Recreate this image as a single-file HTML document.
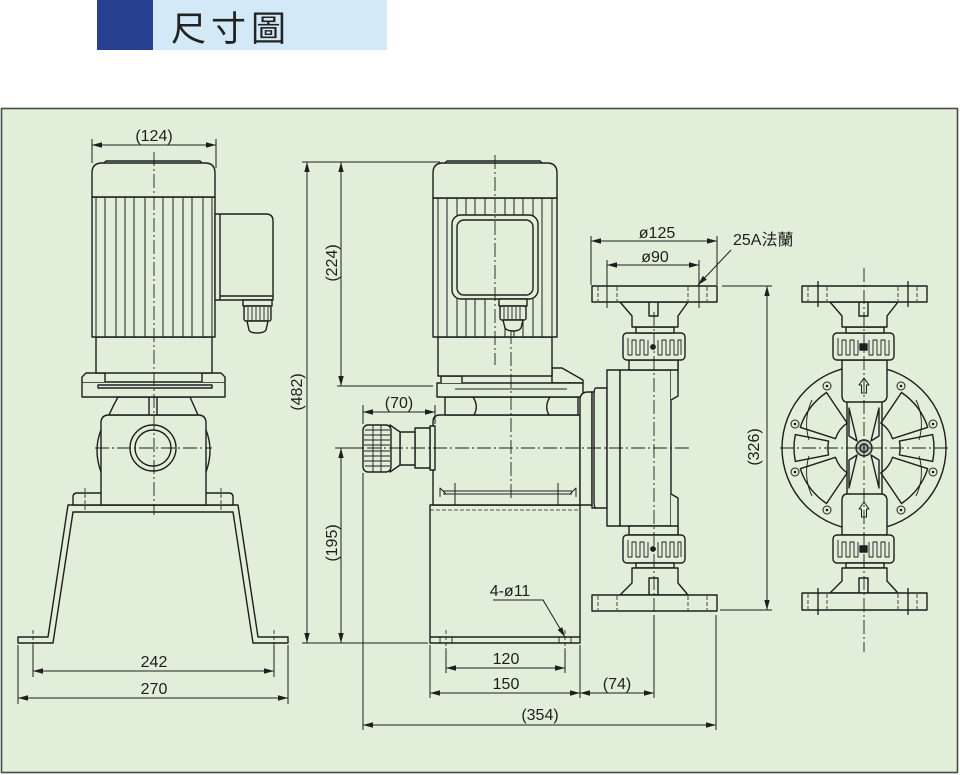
<!DOCTYPE html>
<html><head><meta charset="utf-8"><style>
html,body{margin:0;padding:0;background:#fff;width:960px;height:775px;overflow:hidden}
svg{display:block}
text{font-family:"Liberation Sans","Noto Sans CJK TC",sans-serif;font-size:16px;fill:#1e1e1e}
</style></head><body>
<svg width="960" height="775" viewBox="0 0 960 775" xmlns="http://www.w3.org/2000/svg">
<defs>
<marker id="a" markerUnits="userSpaceOnUse" markerWidth="10" markerHeight="6" refX="10" refY="3" orient="auto-start-reverse"><path d="M0,0.3 L10,3 L0,5.7Z" fill="#1e1e1e"/></marker>
</defs>
<rect x="97" y="0" width="56" height="50" fill="#27408f"/>
<rect x="153" y="0" width="234" height="50" fill="#d4e9f7"/>
<text x="171" y="41" style="font-family:'Noto Sans CJK TC','WenQuanYi Zen Hei',sans-serif;font-size:35px;letter-spacing:5px;fill:#222">尺寸圖</text>
<rect x="1.5" y="108.5" width="956" height="664" fill="#e1eed9" stroke="#4a4a4a" stroke-width="1.6"/>

<!-- ============ LEFT VIEW ============ -->
<g fill="#e1eed9" stroke="#1e1e1e" stroke-width="1.4" stroke-linejoin="round">
  <path d="M18,637 L48,637 L68,505 L238,505 L258,637 L288,637 L288,643 L253,643 L233,512 L73,512 L53,643 L18,643 Z"/>
  <path d="M73,505 L73,497 Q73,493 77,493 L229,493 Q233,493 233,497 L233,505 Z"/>
  <path d="M101,430 Q93,450 101,472" fill="none"/>
  <path d="M206,430 Q214,450 206,472" fill="none"/>
  <path d="M101,505 L101,423 Q101,415 109,415 L198,415 Q206,415 206,423 L206,505 Z"/>
  <circle cx="153" cy="448" r="23"/>
  <circle cx="153" cy="448" r="18"/>
  <path d="M118,397 Q113,406 109,415 L198,415 Q194,406 190,397 Z"/>
  <line x1="149" y1="397" x2="149" y2="415"/>
  <line x1="157" y1="397" x2="157" y2="415"/>
  <rect x="82" y="382" width="143" height="15"/>
  <path d="M82,382 L82,377 L86,373 L105,373 L105,382"/>
  <path d="M225,382 L225,377 L221,373 L202,373 L202,382"/>
  <path d="M98,385 L212,385 L212,388 L98,388 Z"/>
  <rect x="96" y="337" width="116" height="36"/>
  <rect x="92" y="197" width="123" height="140"/>
  <g stroke-width="1">
    <line x1="96" y1="197" x2="96" y2="337"/><line x1="105" y1="197" x2="105" y2="337"/>
    <line x1="116" y1="197" x2="116" y2="337"/><line x1="125" y1="197" x2="125" y2="337"/>
    <line x1="134" y1="197" x2="134" y2="337"/><line x1="145" y1="197" x2="145" y2="337"/>
    <line x1="163" y1="197" x2="163" y2="337"/><line x1="173" y1="197" x2="173" y2="337"/>
    <line x1="183" y1="197" x2="183" y2="337"/><line x1="192" y1="197" x2="192" y2="337"/>
    <line x1="203" y1="197" x2="203" y2="337"/><line x1="212" y1="197" x2="212" y2="337"/>
  </g>
  <path d="M92,197 L92,173 Q92,163 102,163 L205,163 Q215,163 215,173 L215,197 Z"/>
  <path d="M104,163 L106,161 L200,161 L202,163" fill="none"/>
  <path d="M215,214 L266,214 Q273,214 273,221 L273,300 L215,300 Z"/>
  <line x1="220" y1="214" x2="220" y2="300"/>
  <line x1="220" y1="296" x2="273" y2="296"/>
  <rect x="243" y="300" width="29" height="6"/>
  <rect x="244" y="306" width="27" height="15" rx="2"/>
  <g stroke-width="0.9"><line x1="248" y1="307" x2="248" y2="320"/><line x1="252" y1="307" x2="252" y2="320"/><line x1="256" y1="307" x2="256" y2="320"/><line x1="260" y1="307" x2="260" y2="320"/><line x1="264" y1="307" x2="264" y2="320"/><line x1="268" y1="307" x2="268" y2="320"/></g>
  <path d="M247,321 L268,321 L266,330 Q264,333 257,333 Q250,333 249,330 Z"/>
</g>
<g stroke="#1e1e1e" stroke-width="0.9" fill="none" stroke-dasharray="14 3 2 3">
  <line x1="154" y1="152" x2="154" y2="515"/>
  <line x1="95" y1="448" x2="212" y2="448"/>
</g>
<g stroke="#1e1e1e" stroke-width="0.8" fill="none" stroke-dasharray="4 2">
  <line x1="85" y1="488" x2="85" y2="512"/><line x1="221" y1="488" x2="221" y2="512"/>
  <line x1="33" y1="630" x2="33" y2="650"/><line x1="274" y1="630" x2="274" y2="650"/>
</g>

<!-- ============ MIDDLE VIEW ============ -->
<g fill="#e1eed9" stroke="#1e1e1e" stroke-width="1.4" stroke-linejoin="round">
  <rect x="430" y="505" width="150" height="138"/>
  <line x1="430" y1="637" x2="580" y2="637"/>
  <g stroke-width="0.9"><line x1="440" y1="637" x2="440" y2="643"/><line x1="452" y1="637" x2="452" y2="643"/><line x1="559" y1="637" x2="559" y2="643"/><line x1="571" y1="637" x2="571" y2="643"/></g>
  <path d="M433,505 L433,422 Q433,415 440,415 L580,415 L580,505 Z"/>
  <line x1="443" y1="491" x2="572" y2="491" stroke-width="1"/>
  <line x1="443" y1="494" x2="572" y2="494" stroke-width="1"/>
  <path d="M440,497 L440,488 L446,494" fill="none" stroke-width="1"/>
  <path d="M576,497 L576,488 L570,494" fill="none" stroke-width="1"/>
  <line x1="455" y1="483" x2="455" y2="505" stroke-width="1"/>
  <line x1="558" y1="483" x2="558" y2="505" stroke-width="1"/>
  <rect x="445" y="397" width="133" height="18"/>
  <path d="M473,397 Q479,406 474,415" fill="none"/>
  <path d="M550,397 Q544,406 549,415" fill="none"/>
  <path d="M552,368 L562,368 L583,380 L583,383 L552,383 Z"/>
  <rect x="437" y="383" width="146" height="14"/>
  <path d="M441,383 L441,376 L462,376 L462,383" />
  <line x1="455" y1="389" x2="567" y2="389" stroke-width="1"/>
  <rect x="438" y="337" width="114" height="39"/>
  <rect x="433" y="198" width="124" height="139"/>
  <g stroke-width="1">
    <line x1="438" y1="198" x2="438" y2="337"/><line x1="447" y1="198" x2="447" y2="337"/>
    <line x1="457" y1="198" x2="457" y2="337"/><line x1="466" y1="198" x2="466" y2="337"/>
    <line x1="475" y1="198" x2="475" y2="337"/><line x1="485" y1="198" x2="485" y2="337"/>
    <line x1="505" y1="198" x2="505" y2="337"/><line x1="514" y1="198" x2="514" y2="337"/>
    <line x1="523" y1="198" x2="523" y2="337"/><line x1="533" y1="198" x2="533" y2="337"/>
    <line x1="542" y1="198" x2="542" y2="337"/><line x1="552" y1="198" x2="552" y2="337"/>
  </g>
  <path d="M433,198 L433,173 Q433,163 443,163 L547,163 Q557,163 557,173 L557,198 Z"/>
  <path d="M445,163 L447,161 L540,161 L542,163" fill="none"/>
  <rect x="452" y="215" width="86" height="84" rx="9"/>
  <rect x="457" y="220" width="76" height="75" rx="7"/>
  <rect x="499" y="299" width="28" height="7"/>
  <rect x="500" y="306" width="26" height="14" rx="2"/>
  <g stroke-width="0.9"><line x1="504" y1="307" x2="504" y2="319"/><line x1="508" y1="307" x2="508" y2="319"/><line x1="512" y1="307" x2="512" y2="319"/><line x1="516" y1="307" x2="516" y2="319"/><line x1="520" y1="307" x2="520" y2="319"/></g>
  <path d="M503,320 L523,320 L521,328 Q519,331 513,331 Q507,331 505,328 Z"/>
  <rect x="430" y="426" width="5" height="44"/>
  <rect x="415" y="428" width="15" height="40"/>
  <rect x="400" y="432" width="15" height="33"/>
  <path d="M390,425 L400,432 L400,465 L390,472 Z"/>
  <rect x="363" y="425" width="28" height="47" rx="5"/>
  <g stroke-width="0.9">
    <line x1="365" y1="430" x2="390" y2="430"/><line x1="364" y1="435" x2="390" y2="435"/><line x1="364" y1="440" x2="390" y2="440"/><line x1="364" y1="445" x2="390" y2="445"/><line x1="364" y1="451" x2="390" y2="451"/><line x1="364" y1="456" x2="390" y2="456"/><line x1="364" y1="461" x2="390" y2="461"/><line x1="365" y1="466" x2="390" y2="466"/>
    <line x1="373" y1="425" x2="373" y2="472"/><line x1="381" y1="425" x2="381" y2="472"/>
  </g>
  <path d="M580,505 L580,400 Q580,392 588,392 L592,392 L592,505 Z"/>
  <rect x="592" y="392" width="4" height="116"/>
  <path d="M596,388 L607,388 L607,508 L596,508 Q594,508 594,500 L594,396 Q594,388 596,388 Z"/>
  <rect x="607" y="370" width="13" height="156"/>
  <rect x="620" y="370" width="51" height="156"/>
  <path d="M671,360 L678,360 L678,396 L671,400" />
  <path d="M671,494 L678,498 L678,535 L671,535" />
  <rect x="629" y="360" width="49" height="10"/>
  <rect x="623" y="333" width="62" height="27" rx="4"/>
  <g stroke-width="0.9">
    <path d="M628,338 L628,355 L632,355 L632,340 L636,340 L636,355 L640,355 L640,340 L644,340 L644,355 L648,355 L648,340 M658,340 L658,355 L662,355 L662,340 L666,340 L666,355 L670,355 L670,340 L674,340 L674,355 L678,355 L678,340 L681,340 L681,355" fill="none"/>
  </g>
  <circle cx="653" cy="347" r="2.2" fill="#1e1e1e"/>
  <rect x="636" y="327" width="38" height="6"/>
  <path d="M620,302 L632,316 L632,327 L678,327 L678,316 L688,302 Z"/>
  <rect x="649" y="302" width="9" height="14"/>
  <rect x="592" y="286" width="125" height="16"/>
  <rect x="629" y="526" width="49" height="9"/>
  <rect x="623" y="535" width="62" height="28" rx="4"/>
  <g stroke-width="0.9">
    <path d="M628,540 L628,557 L632,557 L632,542 L636,542 L636,557 L640,557 L640,542 L644,542 L644,557 L648,557 L648,542 M658,542 L658,557 L662,557 L662,542 L666,542 L666,557 L670,557 L670,542 L674,542 L674,557 L678,557 L678,542 L681,542 L681,557" fill="none"/>
  </g>
  <circle cx="653" cy="549" r="2.2" fill="#1e1e1e"/>
  <rect x="636" y="563" width="38" height="5"/>
  <path d="M632,568 L632,583 L620,595 L688,595 L678,583 L678,568 Z"/>
  <rect x="649" y="578" width="9" height="17"/>
  <rect x="592" y="595" width="125" height="16"/>
</g>
<g stroke="#1e1e1e" stroke-width="0.9" fill="none" stroke-dasharray="14 3 2 3">
  <line x1="495" y1="155" x2="495" y2="365"/>
  <line x1="511" y1="330" x2="511" y2="500"/>
  <line x1="345" y1="448" x2="690" y2="448"/>
  <line x1="654" y1="312" x2="654" y2="615"/>
</g>
<g stroke="#1e1e1e" stroke-width="0.8" fill="none" stroke-dasharray="4 2">
  <line x1="430" y1="510" x2="580" y2="510"/>
  <line x1="446" y1="630" x2="446" y2="650"/><line x1="565" y1="630" x2="565" y2="650"/>
  <line x1="598" y1="287" x2="598" y2="301"/><line x1="617" y1="287" x2="617" y2="301"/>
  <line x1="688" y1="287" x2="688" y2="301"/><line x1="707" y1="287" x2="707" y2="301"/>
  <line x1="598" y1="596" x2="598" y2="610"/><line x1="617" y1="596" x2="617" y2="610"/>
  <line x1="688" y1="596" x2="688" y2="610"/><line x1="707" y1="596" x2="707" y2="610"/>
</g>

<!-- ============ RIGHT VIEW ============ -->
<g fill="#e1eed9" stroke="#1e1e1e" stroke-width="1.4" stroke-linejoin="round">
  <circle cx="864" cy="448" r="82"/>
  <path d="M826.5,392.5 A67,67 0 0 0 800.3,427.3 L835.5,438.7 A30,30 0 0 1 847.2,423.1 Z"/>
  <path d="M795.3,434.6 A70,70 0 0 0 795.3,461.4 L828.6,454.9 A36,36 0 0 1 828.6,441.1 Z"/>
  <path d="M826.5,503.5 A67,67 0 0 1 800.3,468.7 L835.5,457.3 A30,30 0 0 0 847.2,472.9 Z"/>
  <path d="M901.5,392.5 A67,67 0 0 1 927.7,427.3 L892.5,438.7 A30,30 0 0 0 880.8,423.1 Z"/>
  <path d="M932.7,434.6 A70,70 0 0 1 932.7,461.4 L899.4,454.9 A36,36 0 0 0 899.4,441.1 Z"/>
  <path d="M901.5,503.5 A67,67 0 0 0 927.7,468.7 L892.5,457.3 A30,30 0 0 1 880.8,472.9 Z"/>
  <g stroke-width="0.9" fill="none">
    <path d="M812,400 A55,55 0 0 0 809,440"/>
    <path d="M812,496 A55,55 0 0 1 809,456"/>
    <path d="M916,400 A55,55 0 0 1 919,440"/>
    <path d="M916,496 A55,55 0 0 0 919,456"/>
  </g>
  <path d="M849,408 L849,436 L857,441 Z"/>
  <path d="M849,488 L849,460 L857,455 Z"/>
  <path d="M879,408 L879,436 L871,441 Z"/>
  <path d="M879,488 L879,460 L871,455 Z"/>
  <g stroke-width="1"><circle cx="827" cy="386" r="4"/><circle cx="795" cy="424" r="4"/><circle cx="795" cy="472" r="4"/><circle cx="827" cy="510" r="4"/><circle cx="901" cy="386" r="4"/><circle cx="933" cy="424" r="4"/><circle cx="933" cy="472" r="4"/><circle cx="901" cy="510" r="4"/></g>
  <g fill="#1e1e1e" stroke="none"><circle cx="827" cy="386" r="1.3"/><circle cx="795" cy="424" r="1.3"/><circle cx="795" cy="472" r="1.3"/><circle cx="827" cy="510" r="1.3"/><circle cx="901" cy="386" r="1.3"/><circle cx="933" cy="424" r="1.3"/><circle cx="933" cy="472" r="1.3"/><circle cx="901" cy="510" r="1.3"/></g>
  <path d="M842,360 L842,395 Q842,402 847,402 L881,402 Q887,402 887,395 L887,360 Z"/>
  <path d="M842,535 L842,501 Q842,494 847,494 L881,494 Q887,494 887,501 L887,535 Z"/>
  <line x1="847" y1="402" x2="847" y2="494"/>
  <line x1="882" y1="402" x2="882" y2="494"/>
  <circle cx="864" cy="448" r="8" fill="#b9c4b4"/>
  <circle cx="864" cy="448" r="4" fill="#9aa596"/>
  <path d="M864,378 L869,385 L866.5,385 L866.5,393 L861.5,393 L861.5,385 L859,385 Z" stroke-width="1"/>
  <path d="M864,502 L869,509 L866.5,509 L866.5,517 L861.5,517 L861.5,509 L859,509 Z" stroke-width="1"/>
  <rect x="833" y="333" width="61" height="27" rx="4"/>
  <g stroke-width="0.9">
    <path d="M838,338 L838,355 L842,355 L842,340 L846,340 L846,355 L850,355 L850,340 L854,340 L854,355 L858,355 L858,340 M869,340 L869,355 L873,355 L873,340 L877,340 L877,355 L881,355 L881,340 L885,340 L885,355 L889,355 L889,340" fill="none"/>
  </g>
  <rect x="860" y="344" width="7" height="6" fill="#1e1e1e"/>
  <rect x="846" y="327" width="38" height="6"/>
  <path d="M830,302 L842,316 L842,327 L887,327 L887,316 L898,302 Z"/>
  <rect x="859" y="302" width="9" height="14"/>
  <rect x="802" y="286" width="125" height="16"/>
  <rect x="833" y="535" width="61" height="28" rx="4"/>
  <g stroke-width="0.9">
    <path d="M838,540 L838,557 L842,557 L842,542 L846,542 L846,557 L850,557 L850,542 L854,542 L854,557 L858,557 L858,542 M869,542 L869,557 L873,557 L873,542 L877,542 L877,557 L881,557 L881,542 L885,542 L885,557 L889,557 L889,542" fill="none"/>
  </g>
  <rect x="860" y="546" width="7" height="6" fill="#1e1e1e"/>
  <rect x="846" y="563" width="38" height="5"/>
  <path d="M842,568 L842,581 L830,593 L898,593 L887,581 L887,568 Z"/>
  <rect x="859" y="578" width="9" height="15"/>
  <rect x="802" y="593" width="125" height="17"/>
</g>
<g stroke="#1e1e1e" stroke-width="1.3">
  <line x1="818" y1="281" x2="818" y2="307"/><line x1="908" y1="281" x2="908" y2="307"/>
  <line x1="818" y1="588" x2="818" y2="615"/><line x1="908" y1="588" x2="908" y2="615"/>
</g>
<g stroke="#1e1e1e" stroke-width="0.8" fill="none" stroke-dasharray="4 2">
  <line x1="808" y1="287" x2="808" y2="301"/><line x1="827" y1="287" x2="827" y2="301"/>
  <line x1="898" y1="287" x2="898" y2="301"/><line x1="917" y1="287" x2="917" y2="301"/>
  <line x1="808" y1="594" x2="808" y2="609"/><line x1="827" y1="594" x2="827" y2="609"/>
  <line x1="898" y1="594" x2="898" y2="609"/><line x1="917" y1="594" x2="917" y2="609"/>
</g>
<g stroke="#1e1e1e" stroke-width="0.9" fill="none" stroke-dasharray="14 3 2 3">
  <line x1="864" y1="268" x2="864" y2="652"/>
  <line x1="780" y1="448" x2="949" y2="448"/>
</g>

<!-- ============ DIMENSIONS ============ -->
<g stroke="#1e1e1e" stroke-width="1" fill="none">
  <line x1="92" y1="139" x2="92" y2="163"/><line x1="216" y1="139" x2="216" y2="168"/>
  <line x1="302" y1="162" x2="440" y2="162"/>
  <line x1="302" y1="643" x2="428" y2="643"/>
  <line x1="337" y1="386" x2="433" y2="386"/>
  <line x1="335" y1="448" x2="362" y2="448"/>
  <line x1="363" y1="405" x2="363" y2="424"/><line x1="363" y1="473" x2="363" y2="730"/>
  <line x1="435" y1="405" x2="435" y2="424"/>
  <line x1="716" y1="615" x2="716" y2="730"/>
  <line x1="33" y1="645" x2="33" y2="677"/><line x1="274" y1="645" x2="274" y2="677"/>
  <line x1="18" y1="645" x2="18" y2="704"/><line x1="288" y1="645" x2="288" y2="704"/>
  <line x1="446" y1="650" x2="446" y2="673"/><line x1="565" y1="650" x2="565" y2="673"/>
  <line x1="430" y1="645" x2="430" y2="698"/><line x1="580" y1="645" x2="580" y2="698"/>
  <line x1="654" y1="615" x2="654" y2="698"/>
  <line x1="591" y1="236" x2="591" y2="285"/><line x1="717" y1="236" x2="717" y2="285"/>
  <line x1="607" y1="260" x2="607" y2="308"/><line x1="699" y1="260" x2="699" y2="308"/>
  <line x1="722" y1="286" x2="772" y2="286"/><line x1="720" y1="610" x2="772" y2="610"/>
  <line x1="92" y1="145" x2="216" y2="145" marker-start="url(#a)" marker-end="url(#a)"/>
  <line x1="307" y1="162" x2="307" y2="643" marker-start="url(#a)" marker-end="url(#a)"/>
  <line x1="341" y1="162" x2="341" y2="386" marker-start="url(#a)" marker-end="url(#a)"/>
  <line x1="341" y1="448" x2="341" y2="643" marker-start="url(#a)" marker-end="url(#a)"/>
  <line x1="363" y1="412" x2="435" y2="412" marker-start="url(#a)" marker-end="url(#a)"/>
  <line x1="363" y1="725" x2="716" y2="725" marker-start="url(#a)" marker-end="url(#a)"/>
  <line x1="33" y1="671" x2="274" y2="671" marker-start="url(#a)" marker-end="url(#a)"/>
  <line x1="18" y1="698" x2="288" y2="698" marker-start="url(#a)" marker-end="url(#a)"/>
  <line x1="446" y1="668" x2="565" y2="668" marker-start="url(#a)" marker-end="url(#a)"/>
  <line x1="430" y1="693" x2="580" y2="693" marker-start="url(#a)" marker-end="url(#a)"/>
  <line x1="580" y1="693" x2="654" y2="693" marker-start="url(#a)" marker-end="url(#a)"/>
  <line x1="591" y1="241" x2="717" y2="241" marker-start="url(#a)" marker-end="url(#a)"/>
  <line x1="607" y1="265" x2="699" y2="265" marker-start="url(#a)" marker-end="url(#a)"/>
  <line x1="767" y1="286" x2="767" y2="610" marker-start="url(#a)" marker-end="url(#a)"/>
  <polyline points="493,600 543,600 565,637" marker-end="url(#a)"/>
  <line x1="731" y1="250" x2="698" y2="285" marker-end="url(#a)"/>
</g>

<!-- ============ TEXT ============ -->
<g text-anchor="middle">
  <text x="154" y="141">(124)</text>
  <text x="154" y="667">242</text>
  <text x="154" y="694">270</text>
  <text x="399" y="408">(70)</text>
  <text x="506" y="664">120</text>
  <text x="506" y="689">150</text>
  <text x="617" y="689">(74)</text>
  <text x="540" y="720">(354)</text>
  <text x="510" y="596">4-ø11</text>
  <text x="657" y="238">ø125</text>
  <text x="655" y="262">ø90</text>
  <text transform="translate(296,392) rotate(-90)" dy="6">(482)</text>
  <text transform="translate(331,263) rotate(-90)" dy="6">(224)</text>
  <text transform="translate(331,543) rotate(-90)" dy="6">(195)</text>
  <text transform="translate(753,447) rotate(-90)" dy="6">(326)</text>
</g>
<text x="733" y="245">25A法蘭</text>
</svg>
</body></html>
